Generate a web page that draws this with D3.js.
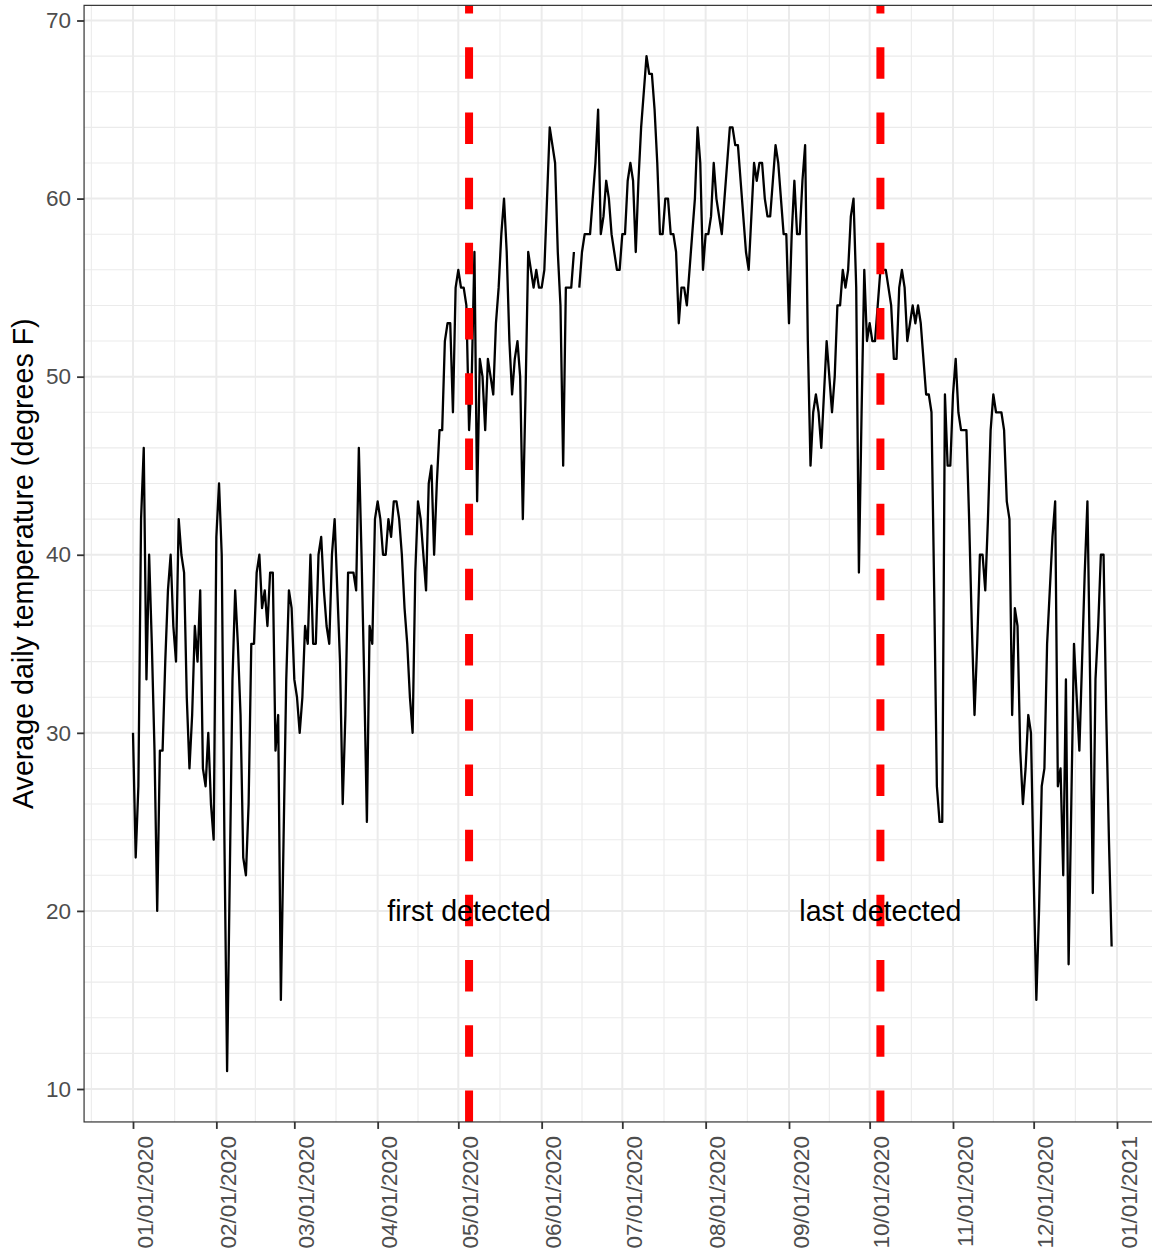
<!DOCTYPE html>
<html>
<head>
<meta charset="utf-8">
<script src="https://cdn.jsdelivr.net/npm/d3@7"></script>
<style>
  html, body { margin: 0; padding: 0; background: #ffffff; }
  svg { display: block; }
  text { font-family: "Liberation Sans", Arial, "DejaVu Sans", sans-serif; }
</style>
</head>
<body>
<svg id="chart" width="1152" height="1253"></svg>
<script>
// ---------------- data ----------------
const startDate = "2020-01-01";
// average daily temperature (degrees F), one value per day from startDate (null = missing)
const temps = [
  30,23,27,42,46,33,40,35,29,20, 29,29,34,38,40,36,34,42,40,39,
  32,28,31,36,34,38,28,27,30,26, 24,41,44,40,24,11,22,33,38,35,
  31,23,22,26,35,35,39,40,37,38, 36,39,39,29,31,15,24,33,38,37,
  33,32,30,32,36,35,40,35,35,40, 41,38,36,35,40,42,38,34,26,31,
  39,39,39,38,46,40,33,25,36,35, 42,43,42,40,40,42,41,43,43,42,
  40,37,35,32,30,39,43,42,40,38, 44,45,40,44,47,47,52,53,53,48,
  55,56,55,55,54,47,50,57,43,51, 50,47,51,50,49,53,55,58,60,57,
  52,49,51,52,50,42,49,57,56,55, 56,55,55,56,60,64,63,62,57,54,
  45,55,55,55,57,null,55,57,58,58, 58,60,62,65,58,59,61,60,58,57,
  56,56,58,58,61,62,61,57,61,64, 66,68,67,67,65,62,58,58,60,60,
  58,58,57,53,55,55,54,56,58,60, 64,62,56,58,58,59,62,60,59,58,
  60,62,64,64,63,63,61,59,57,56, 59,62,61,62,62,60,59,59,61,63,
  62,60,58,58,53,58,61,58,58,61, 63,52,45,48,49,48,46,49,52,50,
  48,50,54,54,56,55,56,59,60,55, 39,48,56,52,53,52,52,54,56,56,
  56,55,54,51,51,55,56,55,52,53, 54,53,54,53,51,49,49,48,38,27,
  25,25,49,45,45,49,51,48,47,47, 47,42,36,31,35,40,40,38,42,47,
  49,48,48,48,47,43,42,31,37,36, 29,26,28,31,30,22,15,20,27,28,
  35,38,41,43,27,28,22,33,17,26, 35,32,29,34,39,43,33,21,33,36,
  40,40,31,24,18
];
const detectDates = ["2020-05-05", "2020-10-05"];
const detectLabels = ["first detected", "last detected"];
const labelValue = 20;
const yTicks = [10, 20, 30, 40, 50, 60, 70];
const xTickDates = ["2020-01-01","2020-02-01","2020-03-01","2020-04-01","2020-05-01","2020-06-01",
                    "2020-07-01","2020-08-01","2020-09-01","2020-10-01","2020-11-01","2020-12-01","2021-01-01"];
const yTitle = "Average daily temperature (degrees F)";

// ---------------- build ----------------
const parse = d3.utcParse("%Y-%m-%d");
const fmt = d3.utcFormat("%m/%d/%Y");
const t0 = parse(startDate);
const series = temps.map((v, i) => ({ date: d3.utcDay.offset(t0, i), value: v }));
const ticks = xTickDates.map(parse);

const svg = d3.select("#chart");
svg.append("rect").attr("width", 1152).attr("height", 1253).attr("fill", "#fff");

// panel geometry (ggplot-like 5% expansion)
const x = d3.scaleUtc().domain([parse("2020-01-01"), parse("2021-01-01")]).range([133, 1117]);
const dataDates = d3.extent(series, d => d.date);
const spanX = dataDates[1] - dataDates[0];
const xDom = [new Date(+dataDates[0] - 0.05 * spanX), new Date(+dataDates[1] + 0.05 * spanX)];
const panelL = x(xDom[0]), panelR = x(xDom[1]);

const vals = temps.filter(v => v != null);
const yMin = d3.min(vals), yMax = d3.max(vals);
const yPad = 0.05 * (yMax - yMin);
const y = d3.scaleLinear().domain([10, 70]).range([1089, 20.5]);
const yDom = [yMin - yPad, yMax + yPad];
const panelB = y(yDom[0]), panelT = y(yDom[1]);

const g = svg.append("g");
const grid = g.append("g");

// horizontal grid: every 2 units, 10s major
const hMinor = d3.range(Math.ceil(yDom[0] / 2) * 2, yDom[1], 2).filter(v => v % 10 !== 0);
grid.selectAll(".hmin").data(hMinor).join("line")
  .attr("x1", panelL).attr("x2", panelR)
  .attr("y1", d => y(d)).attr("y2", d => y(d))
  .attr("stroke", "#ebebeb").attr("stroke-width", 1.1);
// vertical minor grid: midpoints between month ticks
const monthsExt = [parse("2019-12-01"), ...ticks, parse("2021-02-01")];
const vMinor = d3.pairs(monthsExt).map(([a, b]) => new Date((+a + +b) / 2))
  .filter(d => x(d) > panelL && x(d) < panelR);
grid.selectAll(".vmin").data(vMinor).join("line")
  .attr("x1", d => x(d)).attr("x2", d => x(d))
  .attr("y1", panelT).attr("y2", panelB)
  .attr("stroke", "#ebebeb").attr("stroke-width", 1.1);
// major grids
grid.selectAll(".hmaj").data(yTicks).join("line")
  .attr("x1", panelL).attr("x2", panelR)
  .attr("y1", d => y(d)).attr("y2", d => y(d))
  .attr("stroke", "#ebebeb").attr("stroke-width", 2);
grid.selectAll(".vmaj").data(ticks).join("line")
  .attr("x1", d => x(d)).attr("x2", d => x(d))
  .attr("y1", panelT).attr("y2", panelB)
  .attr("stroke", "#ebebeb").attr("stroke-width", 2);

// temperature line
const line = d3.line()
  .defined(d => d.value != null)
  .x(d => x(d.date)).y(d => y(d.value));
g.append("path").datum(series)
  .attr("d", line)
  .attr("fill", "none").attr("stroke", "#000").attr("stroke-width", 2.3)
  .attr("stroke-linejoin", "round");

// detection lines (drawn bottom to top, starting with a dash, like ggplot)
g.selectAll(".vl").data(detectDates.map(parse)).join("line")
  .attr("x1", d => x(d)).attr("x2", d => x(d))
  .attr("y1", panelB).attr("y2", panelT)
  .attr("stroke", "#ff0000").attr("stroke-width", 8)
  .attr("stroke-dasharray", "31.5,33.7");

// labels
g.selectAll(".lab").data(detectLabels).join("text")
  .attr("x", (d, i) => x(parse(detectDates[i])))
  .attr("y", y(labelValue))
  .attr("text-anchor", "middle").attr("dominant-baseline", "central")
  .attr("font-size", 28.6).attr("fill", "#000")
  .text(d => d);

// panel border
g.append("rect").attr("x", panelL).attr("y", panelT)
  .attr("width", panelR - panelL).attr("height", panelB - panelT)
  .attr("fill", "none").attr("stroke", "#333333").attr("stroke-width", 1.2);

// y axis
const yAxis = d3.axisLeft(y).tickValues(yTicks).tickSize(7).tickPadding(6).tickSizeOuter(0);
const ya = svg.append("g").attr("transform", `translate(${panelL},0)`).call(yAxis);
ya.select(".domain").remove();
ya.selectAll(".tick line").attr("stroke", "#333333").attr("stroke-width", 1.8);
ya.selectAll(".tick text").attr("fill", "#4d4d4d").attr("font-size", 22.5)
  .attr("font-family", "Liberation Sans, Arial, sans-serif");

// x axis
const xAxis = d3.axisBottom(x).tickValues(ticks).tickFormat(fmt).tickSize(7).tickSizeOuter(0);
const xa = svg.append("g").attr("transform", `translate(0,${panelB})`).call(xAxis);
xa.select(".domain").remove();
xa.selectAll(".tick line").attr("stroke", "#333333").attr("stroke-width", 1.8);
xa.selectAll(".tick text")
  .attr("fill", "#4d4d4d").attr("font-size", 22.5)
  .attr("font-family", "Liberation Sans, Arial, sans-serif")
  .attr("transform", "rotate(-90)")
  .attr("text-anchor", "end")
  .attr("dy", 0)
  .attr("x", -14).attr("y", 19);

// y title
svg.append("text")
  .attr("transform", `translate(33,${(panelT + panelB) / 2}) rotate(-90)`)
  .attr("text-anchor", "middle")
  .attr("font-size", 28.6).attr("fill", "#000")
  .text(yTitle);
</script>
</body>
</html>
